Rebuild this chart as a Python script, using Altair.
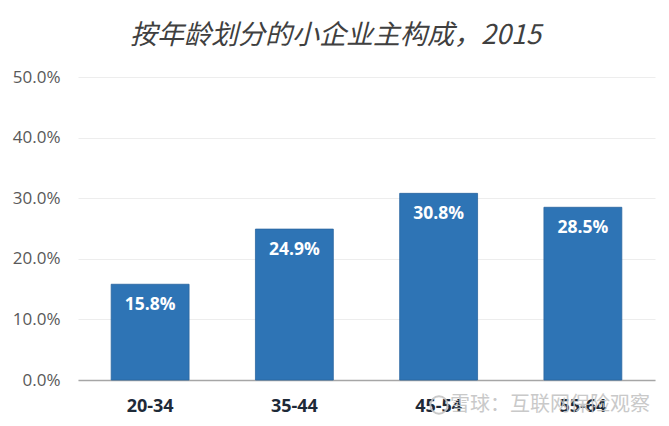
import altair as alt
import pandas as pd

categories = ["20-34", "35-44", "45-54", "55-64"]
values = [0.158, 0.249, 0.308, 0.285]
labels = ["15.8%", "24.9%", "30.8%", "28.5%"]

df = pd.DataFrame({"age": categories, "share": values, "label": labels})

base = alt.Chart(df)

bars = base.mark_bar(color="#2E74B5", stroke="#2A65A0", strokeWidth=0.8).encode(
    x=alt.X("age:N", sort=categories, title=None,
            scale=alt.Scale(paddingInner=0.46, paddingOuter=0.23),
            axis=alt.Axis(labelAngle=0, labelFont="Open Sans", labelFontSize=18,
                          labelFontWeight="bold", labelColor="#1E2A38", labelPadding=17,
                          ticks=False, domainColor="#A6A6A6", domainWidth=1.5)),
    y=alt.Y("share:Q", title=None,
            scale=alt.Scale(domain=[0, 0.5]),
            axis=alt.Axis(format=".1%", values=[0, 0.1, 0.2, 0.3, 0.4, 0.5],
                          labelFont="Open Sans", labelFontSize=17, labelColor="#595959",
                          labelPadding=18, ticks=False, domain=False,
                          gridColor="#EDEDED", gridWidth=1)),
)

text = base.mark_text(color="white", font="Open Sans", fontSize=17.5, fontWeight="bold",
                      baseline="middle", dy=21).encode(
    x=alt.X("age:N", sort=categories),
    y="share:Q",
    text="label:N",
)

watermark = alt.Chart(pd.DataFrame({"t": ["雪球：互联网保险观察"]})).mark_text(
    font="Noto Sans CJK SC", fontSize=20, color="#C4C4C4", opacity=0.9,
    align="left", baseline="middle"
).encode(
    x=alt.value(372), y=alt.value(328), text="t:N"
)

logo = alt.Chart(pd.DataFrame({"t": [1]})).mark_point(
    shape="circle", size=300, color="#C4C4C4", strokeWidth=2, opacity=0.9, filled=False
).encode(x=alt.value(361), y=alt.value(328))

chart = alt.layer(bars, text, logo, watermark).properties(
    width=577, height=303,
    padding={"left": 70, "top": 69, "right": 6, "bottom": 40},
    autosize=alt.AutoSizeParams(type="none"),
    title=alt.TitleParams("按年龄划分的小企业主构成，2015", font="Noto Sans CJK SC",
                          fontSize=27, fontStyle="italic", fontWeight="normal",
                          color="#404040", anchor="middle", offset=18, dx=-31),
).configure_view(stroke=None)

chart.save("out.html", embed_options={"renderer": "svg", "actions": False})
